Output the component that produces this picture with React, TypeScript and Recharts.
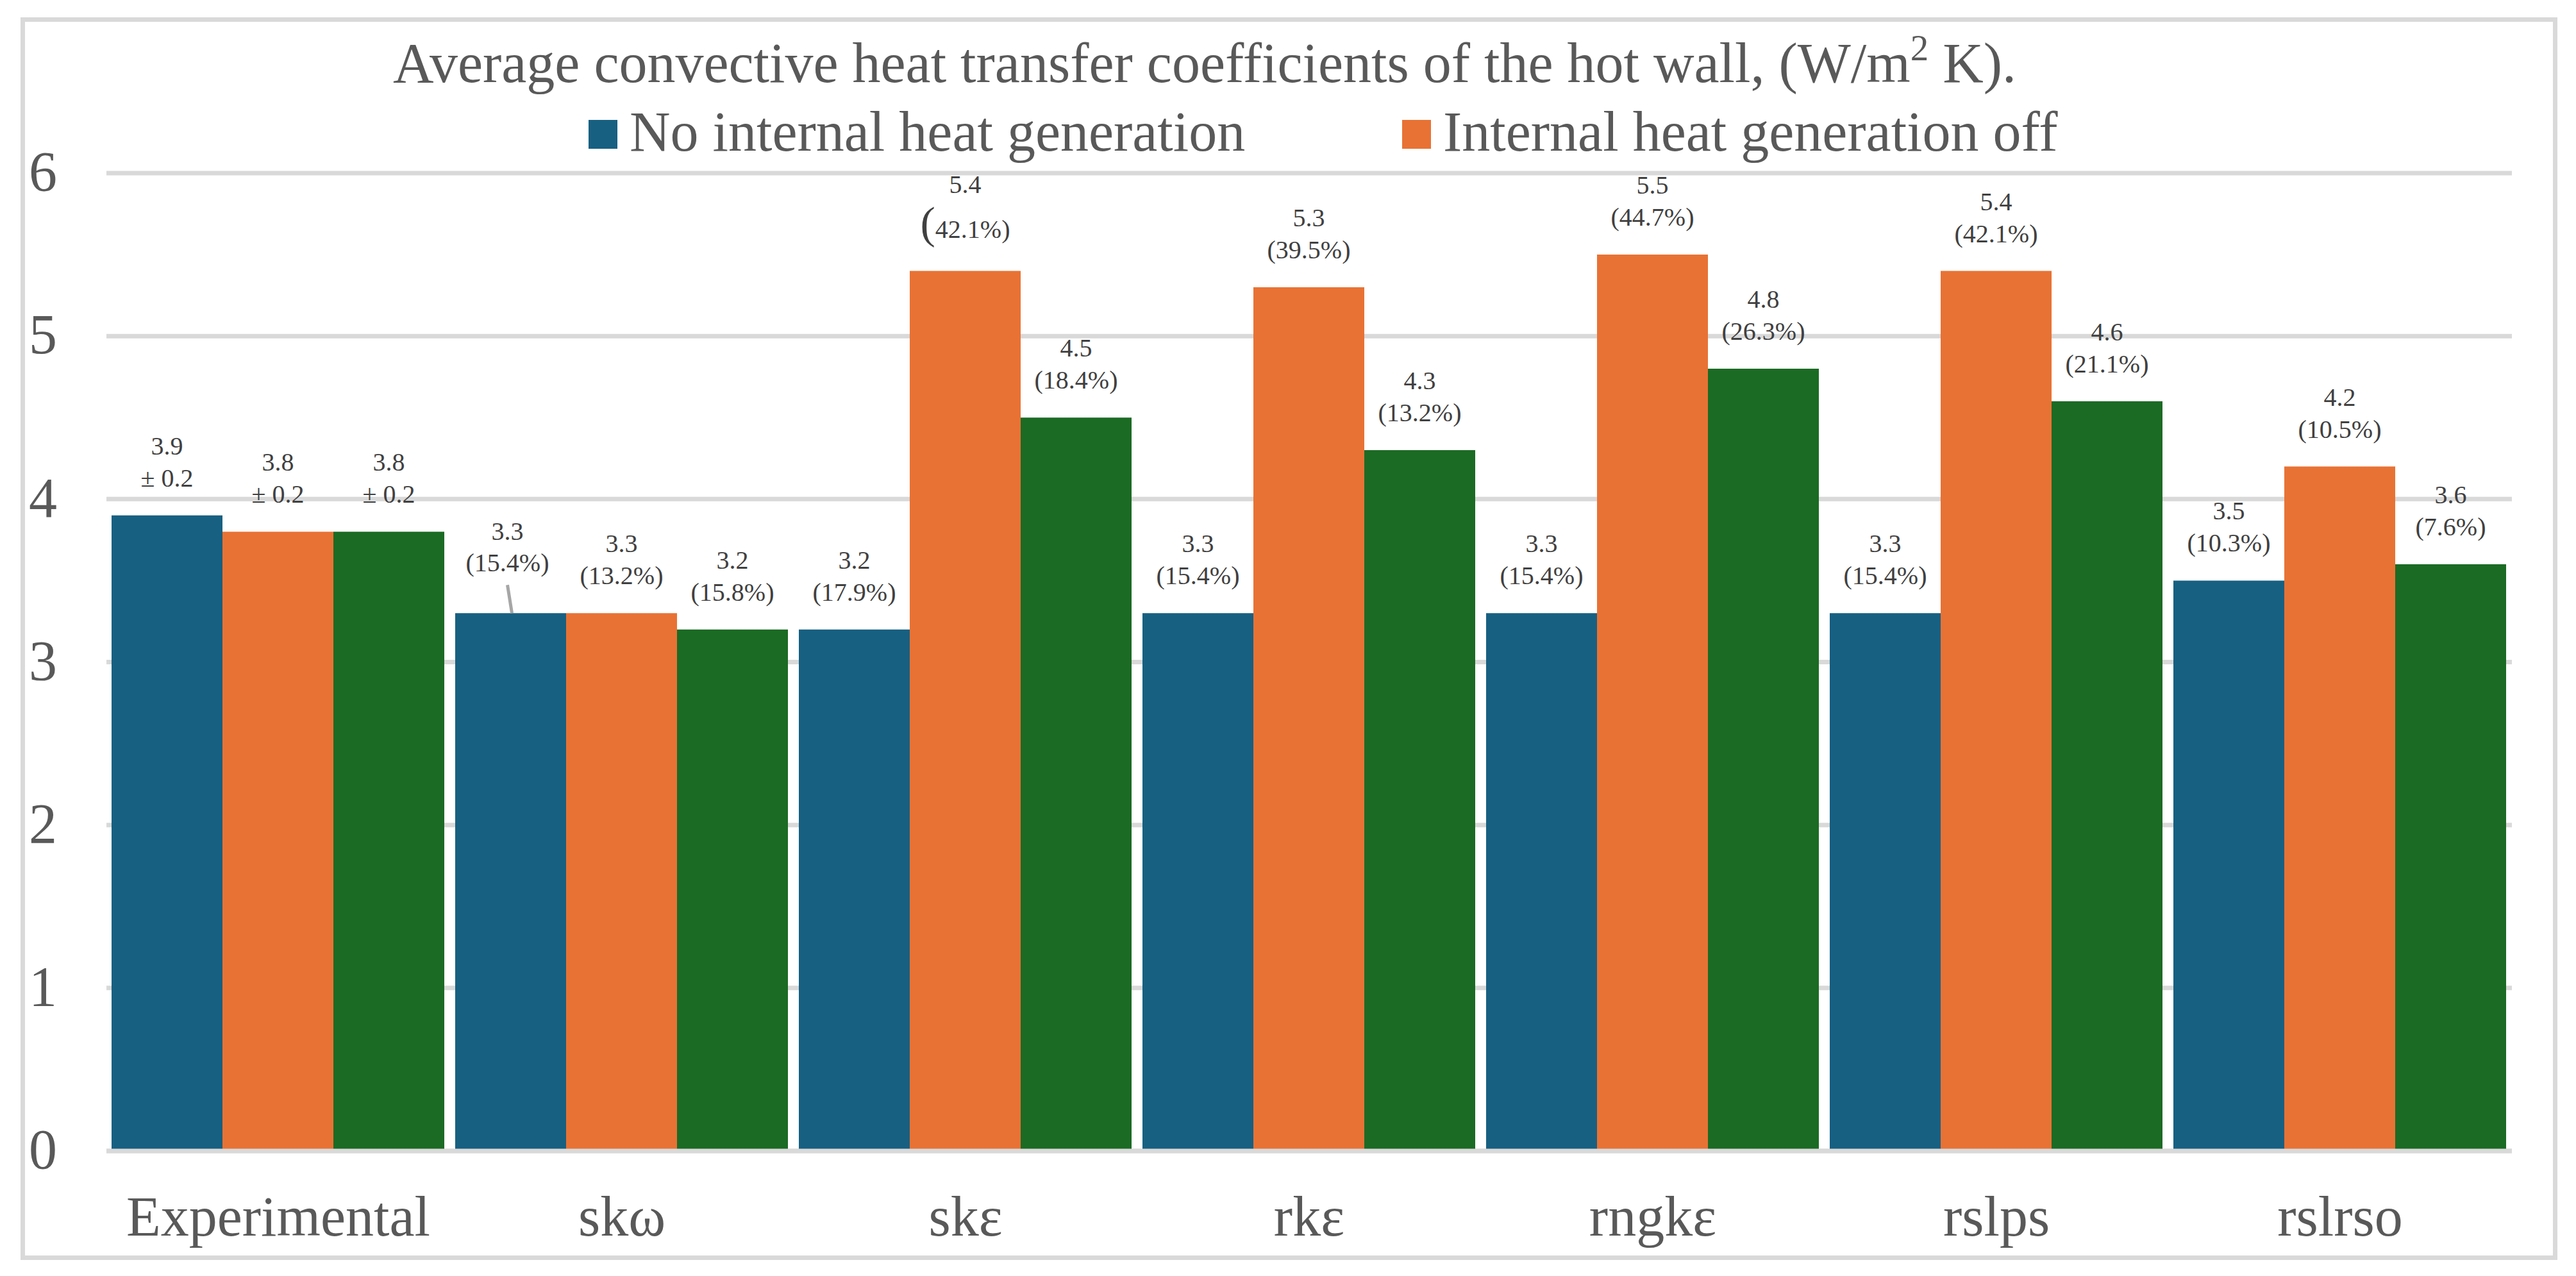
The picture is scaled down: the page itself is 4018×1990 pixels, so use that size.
import React from 'react';
import { BarChart, Bar, XAxis, YAxis, CartesianGrid, Legend, LabelList } from 'recharts';

// values
const categories = ['Experimental', 'skω', 'skε', 'rkε', 'rngkε', 'rslps', 'rslrso'];
const noGeneration = [3.9, 3.3, 3.2, 3.3, 3.3, 3.3, 3.5];
const generationOff = [3.8, 3.3, 5.4, 5.3, 5.5, 5.4, 4.2];
const generationOn = [3.8, 3.2, 4.5, 4.3, 4.8, 4.6, 3.6];
const noGenerationNotes = ['± 0.2', '(15.4%)', '(17.9%)', '(15.4%)', '(15.4%)', '(15.4%)', '(10.3%)'];
const generationOffNotes = ['± 0.2', '(13.2%)', '(42.1%)', '(39.5%)', '(44.7%)', '(42.1%)', '(10.5%)'];
const generationOnNotes = ['± 0.2', '(15.8%)', '(18.4%)', '(13.2%)', '(26.3%)', '(21.1%)', '(7.6%)'];
const yTicks = [0, 1, 2, 3, 4, 5, 6];

const data = categories.map((category, i) => ({
  category,
  noGen: noGeneration[i],
  genOff: generationOff[i],
  genOn: generationOn[i],
}));

const W = 4018;
const H = 1990;
const FONT = "'Liberation Serif', 'Times New Roman', serif";
const AXIS_GREY = '#D9D9D9';
const TEXT_GREY = '#595959';
const LABEL_GREY = '#404040';

// label of skω "no generation" bar sits higher with a leader line,
// label of skε "generation off" bar has the oversized bracket
const CALLOUT_INDEX = 1;
const BIG_BRACKET_INDEX = 2;

const makeLabel = (notes: string[], kind: string) => (props: any) => {
  const vb = props.viewBox || props;
  const i = props.index;
  const cx = vb.x + vb.width / 2;
  const top = vb.y;
  const value = Number(props.value).toFixed(1);
  const note = notes[i] ?? '';
  const common = { textAnchor: 'middle' as const, fontFamily: FONT, fontSize: 40, fill: LABEL_GREY };

  if (kind === 'noGen' && i === CALLOUT_INDEX) {
    return (
      <g>
        <line x1={cx - 5} y1={top - 44} x2={cx + 2} y2={top} stroke="#A6A6A6" strokeWidth={5} />
        <text {...common} x={cx - 5} y={top - 114}>{value}</text>
        <text {...common} x={cx - 5} y={top - 65}>{note}</text>
      </g>
    );
  }
  if (kind === 'genOff' && i === BIG_BRACKET_INDEX) {
    return (
      <g>
        <text {...common} x={cx} y={top - 122}>{value}</text>
        <text {...common} x={cx} y={top - 52}>
          <tspan fontSize={70}>{note.slice(0, 1)}</tspan>
          <tspan>{note.slice(1)}</tspan>
        </text>
      </g>
    );
  }
  return (
    <g>
      <text {...common} x={cx} y={top - 95}>{value}</text>
      <text {...common} x={cx} y={top - 45}>{note}</text>
    </g>
  );
};

// only the first two series appear in the legend
const LEGEND_KEYS = ['noGen', 'genOff'];
const LEGEND_X = [918, 2187];

const renderLegend = (props: any) => {
  const items = LEGEND_KEYS.map((k) => (props.payload || []).find((p: any) => p.dataKey === k)).filter(Boolean);
  return (
    <svg width={W} height={260} style={{ display: 'block' }}>
      {items.map((item: any, i: number) => (
        <g key={item.dataKey}>
          <rect x={LEGEND_X[i]} y={187} width={45} height={45} fill={item.color} />
          <text x={LEGEND_X[i] + 64} y={235} fontFamily={FONT} fontSize={88} fill={TEXT_GREY}>
            {item.value}
          </text>
        </g>
      ))}
    </svg>
  );
};

export default function App() {
  return (
    <div style={{ position: 'absolute', left: 0, top: 0, width: W, height: H, background: '#fff' }}>
      <div
        style={{
          position: 'absolute',
          left: 32,
          top: 27,
          width: 3957,
          height: 1938,
          border: `7px solid ${AXIS_GREY}`,
          boxSizing: 'border-box',
        }}
      />
      <svg width={W} height={160} style={{ position: 'absolute', left: 0, top: 0 }}>
        <text x={1879} y={128} textAnchor="middle" fontFamily={FONT} fontSize={88} fill={TEXT_GREY}>
          Average convective heat transfer coefficients of the hot wall, (W/m
          <tspan fontSize={57} dy={-34}>2</tspan>
          <tspan dy={34}> K).</tspan>
        </text>
      </svg>
      <div style={{ position: 'absolute', left: 0, top: 0 }}>
        <BarChart
          width={W}
          height={H}
          data={data}
          margin={{ top: 270, right: 100, bottom: 0, left: 0 }}
          barGap={0}
          barCategoryGap={8}
        >
          <CartesianGrid vertical={false} stroke={AXIS_GREY} strokeWidth={7} />
          <XAxis
            dataKey="category"
            height={195}
            interval={0}
            tickLine={false}
            axisLine={{ stroke: AXIS_GREY, strokeWidth: 7 }}
            tickSize={0}
            tickMargin={70}
            tick={{ fill: TEXT_GREY, fontSize: 88, fontFamily: FONT }}
          />
          <YAxis
            width={166}
            domain={[0, 6]}
            ticks={yTicks}
            interval={0}
            tickLine={false}
            axisLine={false}
            tickSize={0}
            tickMargin={77}
            tick={{ fill: TEXT_GREY, fontSize: 88, fontFamily: FONT, dy: -4 }}
          />
          <Legend
            layout="vertical"
            align="center"
            verticalAlign="middle"
            wrapperStyle={{ top: 0, left: 0, width: W }}
            content={renderLegend}
          />
          <Bar dataKey="noGen" name="No internal heat generation" fill="#176082" isAnimationActive={false}>
            <LabelList dataKey="noGen" content={makeLabel(noGenerationNotes, 'noGen')} />
          </Bar>
          <Bar dataKey="genOff" name="Internal heat generation off" fill="#E87234" isAnimationActive={false}>
            <LabelList dataKey="genOff" content={makeLabel(generationOffNotes, 'genOff')} />
          </Bar>
          <Bar
            dataKey="genOn"
            name="Internal heat generation on"
            fill="#1B6B24"
            legendType="none"
            isAnimationActive={false}
          >
            <LabelList dataKey="genOn" content={makeLabel(generationOnNotes, 'genOn')} />
          </Bar>
        </BarChart>
      </div>
    </div>
  );
}
